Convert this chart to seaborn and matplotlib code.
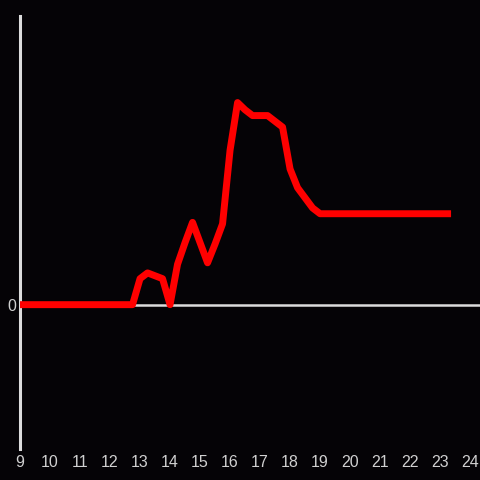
import pandas as pd
import matplotlib
matplotlib.use("Agg")
import matplotlib.pyplot as plt
import seaborn as sns

# horas del dia (cada 15 min)
horas = [9.0, 9.25, 9.5, 9.75, 10.0, 10.25, 10.5, 10.75,
         11.0, 11.25, 11.5, 11.75, 12.0, 12.25, 12.5, 12.75,
         13.0, 13.25, 13.5, 13.75, 14.0, 14.25, 14.5, 14.75,
         15.0, 15.25, 15.5, 15.75, 16.0, 16.25, 16.5, 16.75,
         17.0, 17.25, 17.5, 17.75, 18.0, 18.25, 18.5, 18.75,
         19.0, 19.25, 19.5, 19.75, 20.0, 20.25, 20.5, 20.75,
         21.0, 21.25, 21.5, 21.75, 22.0, 22.25, 22.5, 22.75,
         23.0, 23.25]
valores = [0, 0, 0, 0, 0, 0, 0, 0,
           0, 0, 0, 0, 0, 0, 0, 0,
           0.18, 0.22, 0.20, 0.18, 0.0, 0.28, 0.43, 0.57,
           0.43, 0.29, 0.42, 0.56, 1.07, 1.40, 1.35, 1.31,
           1.31, 1.31, 1.27, 1.23, 0.94, 0.81, 0.74, 0.67,
           0.63, 0.63, 0.63, 0.63, 0.63, 0.63, 0.63, 0.63,
           0.63, 0.63, 0.63, 0.63, 0.63, 0.63, 0.63, 0.63,
           0.63, 0.63]
xticks = [9, 10, 11, 12, 13, 14, 15, 16, 17, 18, 19, 20, 21, 22, 23, 24]

df = pd.DataFrame({"hora": horas, "valor": valores})

fondo = "#050306"
gris = "#dcdcdc"

sns.set_style("dark")
plt.rcParams["font.family"] = ["Liberation Sans", "DejaVu Sans"]

fig = plt.figure(figsize=(4.8, 4.8), dpi=100, facecolor=fondo)
ax = fig.add_axes([0.0417, 0.0646, 0.9583, 0.9021])
ax.set_facecolor(fondo)

ax.axhline(0, color=gris, lw=1.8, zorder=1)
sns.lineplot(data=df, x="hora", y="valor", ax=ax, color="#ff0000", lw=5,
             solid_capstyle="projecting", zorder=3)

ax.set_xlim(9, 24.33)
ax.set_ylim(-1.0, 2.0)
ax.set_xticks(xticks)
ax.set_xticklabels([str(t) for t in xticks])
ax.set_yticks([0])
ax.set_yticklabels(["0"])
ax.tick_params(axis="both", length=0, colors="#d0d0d0", labelsize=11.5)
ax.tick_params(axis="x", pad=4.5)
ax.tick_params(axis="y", pad=3)
ax.set_xlabel("")
ax.set_ylabel("")
ax.grid(False)

for lado in ["top", "right", "bottom"]:
    ax.spines[lado].set_visible(False)
ax.spines["left"].set_color(gris)
ax.spines["left"].set_linewidth(2.2)

fig.savefig("out.png", dpi=100, facecolor=fondo)
